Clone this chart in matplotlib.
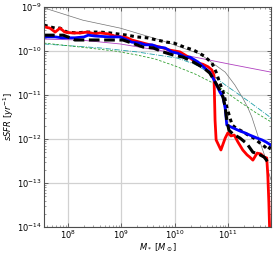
import numpy as np
import matplotlib
matplotlib.use('Agg')
import matplotlib.pyplot as plt

# log10 stellar mass / log10 sSFR
red_m = [7.55, 7.66, 7.76, 7.85, 7.94, 8.08, 8.23, 8.36, 8.51, 8.60, 8.75, 8.88, 9.01, 9.11,
         9.20, 9.35, 9.54, 9.73, 9.91, 10.10, 10.29, 10.42, 10.53, 10.63, 10.70, 10.74, 10.76,
         10.78, 10.87, 10.95, 11.00, 11.06, 11.12, 11.19, 11.28, 11.36, 11.41, 11.47, 11.55,
         11.62, 11.68, 11.73, 11.75, 11.77, 11.79]
red_s = [-9.45, -9.48, -9.57, -9.48, -9.57, -9.59, -9.59, -9.57, -9.61, -9.59, -9.61, -9.66,
         -9.68, -9.70, -9.75, -9.80, -9.86, -9.91, -9.98, -10.02, -10.16, -10.27, -10.30,
         -10.36, -10.43, -10.55, -11.57, -12.02, -12.25, -11.98, -11.86, -11.93, -11.91,
         -12.07, -12.25, -12.36, -12.41, -12.48, -12.32, -12.34, -12.41, -12.43, -12.82,
         -13.45, -14.3]

blue_m = [7.55, 7.76, 7.89, 8.13, 8.30, 8.38, 8.51, 8.79, 8.98, 9.07, 9.20, 9.35, 9.45, 9.58,
          9.69, 9.82, 9.95, 10.06, 10.20, 10.29, 10.44, 10.57, 10.66, 10.76, 10.85, 10.91,
          10.95, 10.98, 11.10, 11.23, 11.32, 11.41, 11.55, 11.64, 11.72, 11.81]
blue_s = [-9.68, -9.68, -9.70, -9.70, -9.68, -9.64, -9.66, -9.68, -9.68, -9.73, -9.80, -9.82,
          -9.86, -9.86, -9.91, -9.93, -10.02, -10.05, -10.14, -10.14, -10.25, -10.39, -10.48,
          -10.70, -10.93, -11.05, -11.30, -11.68, -11.75, -11.82, -11.86, -11.91, -11.98,
          -12.02, -12.07, -12.14]

dash_m = [7.55, 7.91, 8.04, 8.13, 9.03, 9.20, 9.41, 9.60, 9.78, 9.97, 10.16, 10.35, 10.48,
          10.57, 10.66, 10.76, 10.85, 10.91, 10.95, 10.98, 11.02, 11.10, 11.23, 11.36, 11.47,
          11.57, 11.68, 11.75]
dash_s = [-9.64, -9.64, -9.70, -9.75, -9.75, -9.82, -9.91, -9.93, -10.02, -10.09, -10.14,
          -10.25, -10.34, -10.41, -10.50, -10.70, -10.89, -11.05, -11.27, -11.57, -11.80,
          -11.89, -11.98, -12.11, -12.30, -12.34, -12.41, -12.52]

dot_m = [7.55, 7.66, 7.76, 7.85, 7.98, 8.17, 8.32, 8.47, 8.60, 8.79, 9.11, 9.29, 9.48, 9.67,
         9.86, 9.99, 10.18, 10.36, 10.55, 10.70, 10.78, 10.85, 10.93, 10.98, 11.04, 11.08,
         11.15, 11.26, 11.38, 11.49, 11.60, 11.70, 11.75, 11.81]
dot_s = [-9.41, -9.45, -9.48, -9.48, -9.57, -9.59, -9.57, -9.57, -9.57, -9.59, -9.64, -9.68,
         -9.70, -9.75, -9.80, -9.82, -9.91, -9.98, -10.11, -10.27, -10.48, -10.73, -11.00,
         -11.27, -11.52, -11.68, -11.75, -11.82, -11.91, -11.98, -12.09, -12.18, -12.25,
         -12.16]

grey_m = [7.55, 8.28, 8.98, 9.73, 10.48, 10.95, 11.13, 11.28, 11.38, 11.45, 11.57, 11.70,
          11.75, 11.81]
grey_s = [-9.02, -9.30, -9.48, -9.75, -10.07, -10.48, -10.77, -11.07, -11.30, -11.50, -11.95,
          -12.41, -12.70, -12.93]

purple_m = [7.55, 8.23, 8.98, 9.88, 10.38, 11.04, 11.81]
purple_s = [-9.73, -9.75, -9.84, -10.02, -10.14, -10.30, -10.48]

green_m = [7.55, 8.23, 8.88, 9.29, 9.63, 10.01, 10.38, 10.76, 11.17, 11.51, 11.81]
green_s = [-9.82, -9.91, -10.00, -10.09, -10.18, -10.34, -10.52, -10.75, -11.11, -11.39, -11.61]

cyan_m = [7.55, 8.60, 9.29, 10.05, 10.38, 10.66, 10.95, 11.41, 11.81]
cyan_s = [-9.84, -9.93, -10.02, -10.16, -10.30, -10.50, -10.77, -11.16, -11.52]

plt.rcParams['font.size'] = 6
plt.rcParams['mathtext.fontset'] = 'dejavusans'

fig = plt.figure(figsize=(2.74, 2.54), dpi=100)
ax = fig.add_axes([44/274, 1-227/254, 227/274, 220/254])

def p(m, s, **kw):
    ax.plot(10**np.array(m), 10**np.array(s), **kw)

p(grey_m, grey_s, color='0.45', lw=0.5)
p(purple_m, purple_s, color='#b040c0', lw=0.6)
p(cyan_m, cyan_s, color='#20a0a8', lw=0.6, ls='-.')
p(green_m, green_s, color='#30a030', lw=0.6, ls='--', dashes=(3, 2))
p(dot_m, dot_s, color='k', lw=2.2, ls=(0, (1.2, 1.2)))
p(red_m, red_s, color='#ff0000', lw=2.0)
p(blue_m, blue_s, color='#0000ff', lw=2.0)
p(dash_m, dash_s, color='k', lw=2.2, ls=(0, (3.5, 1.5)))

ax.set_xscale('log')
ax.set_yscale('log')
ax.set_xlim(10**7.55, 10**11.81)
ax.set_ylim(1e-14, 1e-9)
ax.set_xticks([1e8, 1e9, 1e10, 1e11])
ax.set_yticks([1e-14, 1e-13, 1e-12, 1e-11, 1e-10, 1e-9])
ax.grid(True, which='major', color='0.82', lw=0.9)
ax.set_axisbelow(True)
ax.tick_params(which='both', direction='in', top=True, right=True, color='0.3')
ax.tick_params(which='major', length=3, width=0.6, pad=1.5)
ax.tick_params(which='minor', length=1.5, width=0.4)
for sp in ax.spines.values():
    sp.set_color('0.3')
    sp.set_linewidth(0.8)

ax.set_xlabel(r'$M_*\ [M_\odot]$', labelpad=0)
ax.set_ylabel(r'$sSFR\ [yr^{-1}]$', labelpad=1)

fig.savefig('out.png', dpi=100)
